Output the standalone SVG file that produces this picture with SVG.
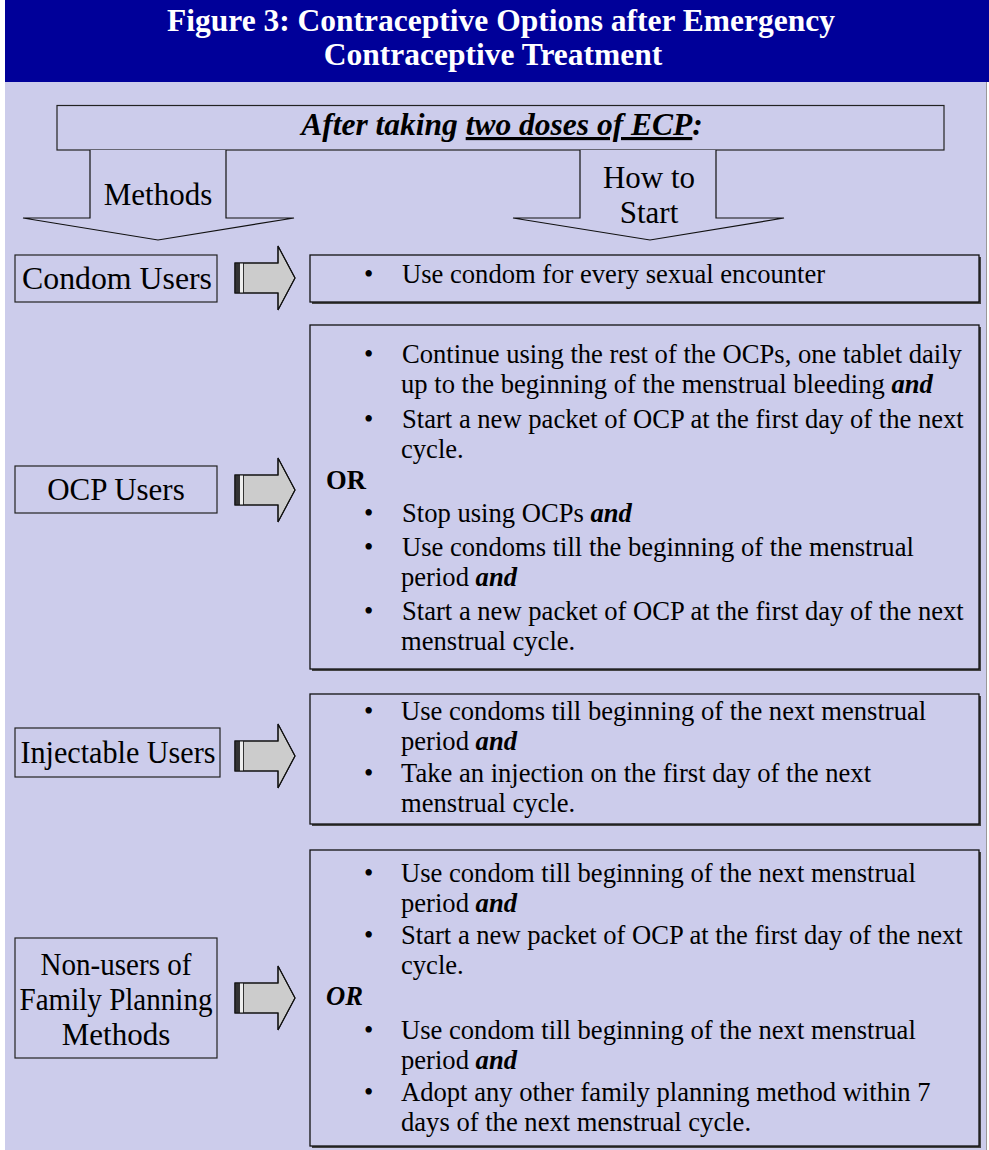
<svg xmlns="http://www.w3.org/2000/svg" width="989" height="1150" viewBox="0 0 989 1150">
<defs>
<style>
.t{font-family:"Liberation Serif","Times New Roman",serif;fill:#000}
.title{font-family:"Liberation Serif","Times New Roman",serif;font-weight:bold;fill:#fff;font-size:31.5px;text-anchor:middle}
.lab{font-size:31px;text-anchor:middle}
.body{font-size:26.6px}
.bi{font-weight:bold;font-style:italic}
.b{font-weight:bold}
.box{fill:none;stroke:#222;stroke-width:1.2}
.rbox{fill:#CCCCEB;stroke:#111;stroke-width:1.3}
.shadow{fill:#444}
.down{fill:#CCCCEB;stroke:#111;stroke-width:1.2}
.ash{fill:#CCCCCC;stroke:#111;stroke-width:1.1}
</style>
<g id="rarrow">
<path class="ash" d="M235,-15 H278 V-32 L295,0 L278,32 V15 H235 Z"/>
<rect x="235" y="-15" width="5" height="30" fill="#333"/>
<rect x="240" y="-15" width="3" height="30" fill="#eee"/>
<line x1="243.5" y1="-15" x2="243.5" y2="15" stroke="#333" stroke-width="1"/>
<path d="M235,-15 H278 V-32 L295,0 L278,32 V15 H235 Z" fill="none" stroke="#111" stroke-width="1.1"/>
</g>
</defs>

<rect x="0" y="0" width="989" height="1150" fill="#fff"/>
<rect x="5" y="82" width="982" height="1068" fill="#CCCCEB"/>
<line x1="986.5" y1="82" x2="986.5" y2="1150" stroke="#999" stroke-width="1"/>

<g id="title">
<rect x="5" y="0" width="984" height="82" fill="#000099"/>
<text class="title" x="501" y="31">Figure 3: Contraceptive Options after Emergency</text>
<text class="title" x="493" y="65">Contraceptive Treatment</text>
</g>

<g id="header">
<rect x="57" y="105.5" width="887" height="44.5" class="box"/>
<text class="t bi" x="502" y="135" font-size="31.5" text-anchor="middle">After taking <tspan text-decoration="underline">two doses of ECP</tspan>:</text>
</g>

<g id="methods-head">
<path class="down" d="M90,150 V218 H23 L158,240 L294,218 H226 V150"/>
<text class="t lab" x="158" y="205">Methods</text>
</g>

<g id="howto-head">
<path class="down" d="M580,150 V218 H513 L650,240 L784,218 H716 V150"/>
<text class="t lab" x="649" y="188">How to</text>
<text class="t lab" x="649" y="223">Start</text>
</g>

<g id="connectors">
<use href="#rarrow" y="278"/>
<use href="#rarrow" y="490"/>
<use href="#rarrow" y="756"/>
<use href="#rarrow" y="998"/>
</g>

<g id="condom-users">
<rect x="15" y="255" width="202" height="47" class="box"/>
<text class="t lab" x="117" y="289" textLength="190" lengthAdjust="spacingAndGlyphs">Condom Users</text>
</g>

<g id="ocp-users">
<rect x="15" y="466" width="202" height="47" class="box"/>
<text class="t lab" x="116" y="500">OCP Users</text>
</g>

<g id="injectable-users">
<rect x="15" y="728" width="205" height="49" class="box"/>
<text class="t lab" x="118" y="763" textLength="195" lengthAdjust="spacingAndGlyphs">Injectable Users</text>
</g>

<g id="non-users">
<rect x="15" y="938" width="202" height="120" class="box"/>
<text class="t lab" x="116" y="975" textLength="151" lengthAdjust="spacingAndGlyphs">Non-users of</text>
<text class="t lab" x="116" y="1010" textLength="193" lengthAdjust="spacingAndGlyphs">Family Planning</text>
<text class="t lab" x="116" y="1045">Methods</text>
</g>

<g id="condom-how">
<rect x="312" y="257" width="669" height="47" class="shadow"/>
<rect x="310" y="255" width="669" height="47" class="rbox"/>
<text class="t body" x="364" y="283">•</text>
<text class="t body" x="402" y="283">Use condom for every sexual encounter</text>
</g>

<g id="ocp-how">
<rect x="312" y="327" width="669" height="344" class="shadow"/>
<rect x="310" y="325" width="669" height="344" class="rbox"/>
<text class="t body" x="364" y="363">•</text>
<text class="t body" x="402" y="363">Continue using the rest of the OCPs, one tablet daily</text>
<text class="t body" x="401" y="393">up to the beginning of the menstrual bleeding <tspan class="bi">and</tspan></text>
<text class="t body" x="364" y="428">•</text>
<text class="t body" x="402" y="428">Start a new packet of OCP at the first day of the next</text>
<text class="t body" x="401" y="458">cycle.</text>
<text class="t body b" x="326" y="489">OR</text>
<text class="t body" x="364" y="522">•</text>
<text class="t body" x="402" y="522">Stop using OCPs <tspan class="bi">and</tspan></text>
<text class="t body" x="364" y="556">•</text>
<text class="t body" x="402" y="556">Use condoms till the beginning of the menstrual</text>
<text class="t body" x="401" y="586">period <tspan class="bi">and</tspan></text>
<text class="t body" x="364" y="620">•</text>
<text class="t body" x="402" y="620">Start a new packet of OCP at the first day of the next</text>
<text class="t body" x="401" y="650">menstrual cycle.</text>
</g>

<g id="injectable-how">
<rect x="312" y="696" width="669" height="130" class="shadow"/>
<rect x="310" y="694" width="669" height="130" class="rbox"/>
<text class="t body" x="364" y="720">•</text>
<text class="t body" x="401" y="720">Use condoms till beginning of the next menstrual</text>
<text class="t body" x="401" y="750">period <tspan class="bi">and</tspan></text>
<text class="t body" x="364" y="782">•</text>
<text class="t body" x="401" y="782">Take an injection on the first day of the next</text>
<text class="t body" x="401" y="812">menstrual cycle.</text>
</g>

<g id="non-users-how">
<rect x="312" y="852" width="669" height="296" class="shadow"/>
<rect x="310" y="850" width="669" height="296" class="rbox"/>
<text class="t body" x="364" y="882">•</text>
<text class="t body" x="401" y="882">Use condom till beginning of the next menstrual</text>
<text class="t body" x="401" y="912">period <tspan class="bi">and</tspan></text>
<text class="t body" x="364" y="944">•</text>
<text class="t body" x="401" y="944">Start a new packet of OCP at the first day of the next</text>
<text class="t body" x="401" y="974">cycle.</text>
<text class="t body bi" x="326" y="1005">OR</text>
<text class="t body" x="364" y="1039">•</text>
<text class="t body" x="401" y="1039">Use condom till beginning of the next menstrual</text>
<text class="t body" x="401" y="1069">period <tspan class="bi">and</tspan></text>
<text class="t body" x="364" y="1101">•</text>
<text class="t body" x="401" y="1101">Adopt any other family planning method within 7</text>
<text class="t body" x="401" y="1131">days of the next menstrual cycle.</text>
</g>
</svg>
